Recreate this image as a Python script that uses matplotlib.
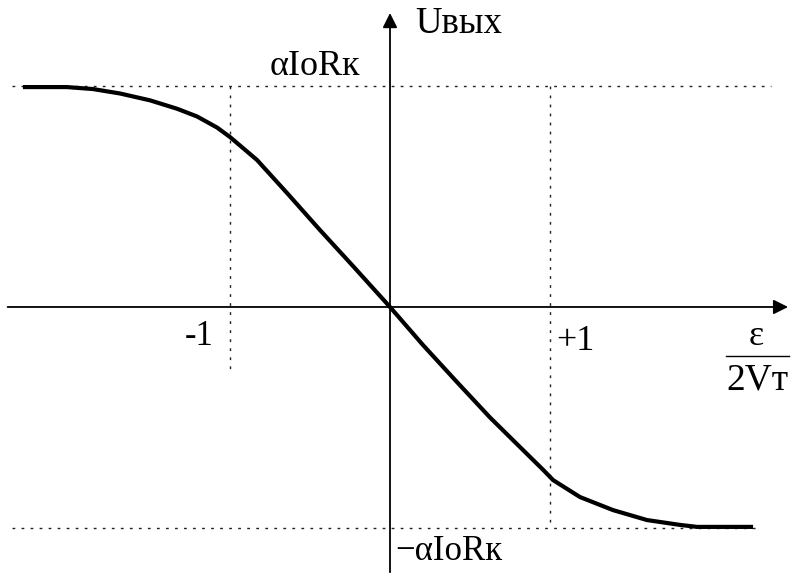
import matplotlib.pyplot as plt

plt.rcParams['font.family'] = ['Liberation Serif', 'DejaVu Serif']

# transfer characteristic of the differential stage, read point by point
eps = [-2.294, -2.019, -1.856, -1.6875, -1.5, -1.331, -1.206, -1.081, -1.0,
       -0.831, -0.644, -0.4375, -0.231, 0.0,
       0.206, 0.419, 0.625, 0.831, 0.956, 1.019, 1.1875, 1.394, 1.606,
       1.8125, 1.919, 2.269]
u_out = [0.995, 0.995, 0.986, 0.966, 0.935, 0.897, 0.862, 0.812, 0.769,
         0.665, 0.516, 0.348, 0.185, 0.0,
         -0.172, -0.340, -0.500, -0.647, -0.736, -0.783, -0.860, -0.919, -0.964,
         -0.986, -0.995, -0.995]

x_marks = [-1, 1]
x_mark_labels = ['-1', '+1']
level = 1.0

fig = plt.figure(figsize=(7.94, 5.77), dpi=100)
ax = fig.add_axes([0, 0, 1, 1])
ax.set_xlim(-2.4375, 2.525)
ax.set_ylim(-1.2217, 1.389)
ax.axis('off')

# dotted guide lines
dot = dict(color='#222222', lw=1.0, linestyle=(0, (2, 4.5)))
ax.plot([-2.36, 2.38], [level, level], **dot)
ax.plot([-2.36, 2.31], [-level, -level], **dot)
ax.plot([x_marks[0], x_marks[0]], [level, -0.294], **dot)
ax.plot([x_marks[1], x_marks[1]], [level, -0.973], **dot)

# axes with arrows
arr = dict(arrowstyle='-|>', mutation_scale=22, lw=1.3, color='black', shrinkA=0, shrinkB=0)
ax.annotate('', xy=(2.488, 0), xytext=(-2.39, 0), arrowprops=arr)
ax.annotate('', xy=(0, 1.33), xytext=(0, -1.2), arrowprops=arr)

# the curve
ax.plot(eps, u_out, color='black', lw=3.0, solid_capstyle='butt',
        solid_joinstyle='round')

fs = 25
ax.text(0.156, 1.24, 'Uвых', fontsize=26.5, ha='left', va='baseline')
ax.text(-0.75, 1.05, 'αIoRк', fontsize=26, ha='left', va='baseline')
ax.text(0.03, -1.145, '−αIoRк', fontsize=fs, ha='left', va='baseline')
ax.text(-1.28, -0.172, x_mark_labels[0], fontsize=fs, ha='left', va='baseline')
ax.text(1.04, -0.195, x_mark_labels[1], fontsize=26, ha='left', va='baseline')

# axis label as a fraction
ax.text(2.29, -0.172, 'ε', fontsize=26, ha='center', va='baseline')
ax.plot([2.1, 2.495], [-0.222, -0.222], color='black', lw=1.0)
ax.text(2.295, -0.375, '2Vт', fontsize=27, ha='center', va='baseline')

fig.savefig('out.png', dpi=100)
